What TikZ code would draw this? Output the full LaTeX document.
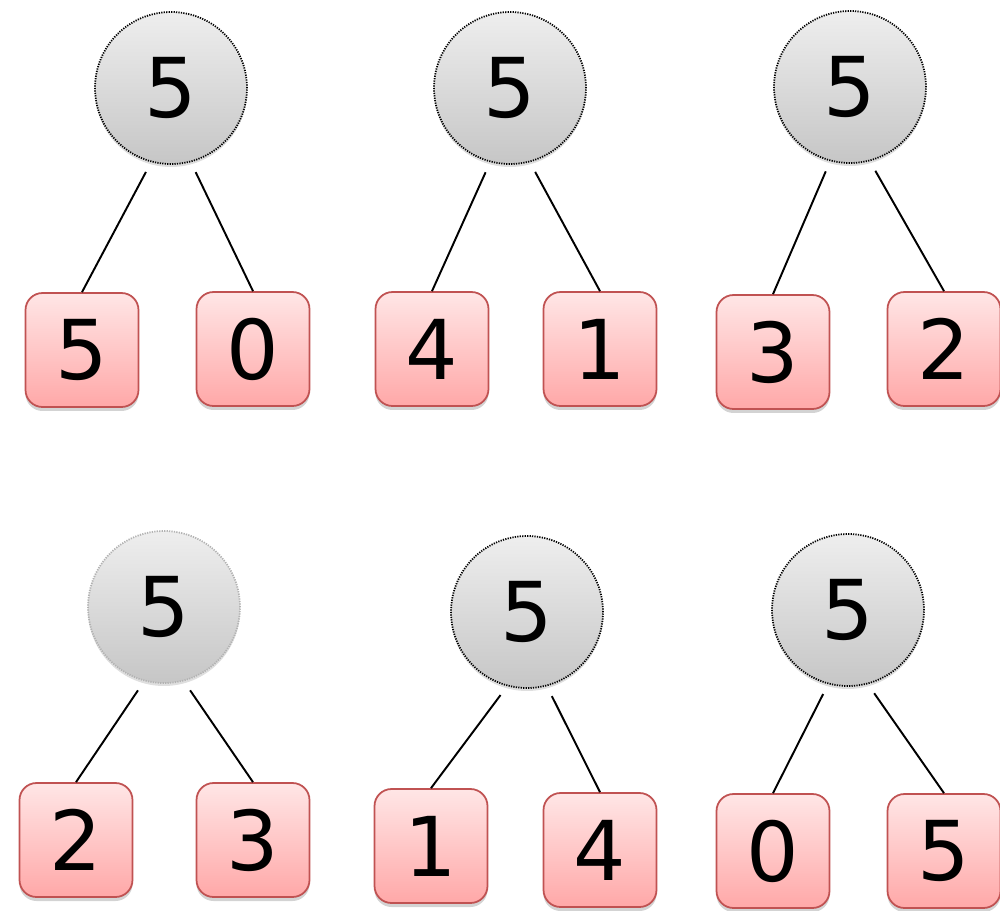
\documentclass[tikz,border=0pt]{standalone}
\usepackage{fontspec}
\setmainfont{DejaVu Sans}
\usetikzlibrary{shadows}

\definecolor{partrim}{HTML}{C05252}
\definecolor{parttop}{HTML}{FFE6E6}
\definecolor{partbot}{HTML}{FFA8A8}
\definecolor{wholetop}{HTML}{EEEEEE}
\definecolor{wholebot}{HTML}{C6C6C6}

\tikzset{
  whole/.style={circle, minimum size=3.04cm, inner sep=0pt,
    line width=1pt, dash pattern=on 0.7pt off 0.7pt,
    top color=wholetop, bottom color=wholebot,
    drop shadow={opacity=0.25, shadow xshift=0pt, shadow yshift=-0.06cm},
    font=\fontsize{47}{48}\selectfont},
  part/.style={rectangle, rounded corners=0.34cm, minimum width=2.26cm,
    minimum height=2.28cm, inner sep=0pt, draw=partrim, line width=1pt,
    top color=parttop, bottom color=partbot,
    drop shadow={opacity=0.35, shadow xshift=0pt, shadow yshift=-0.08cm},
    font=\fontsize{47}{48}\selectfont},
  bond/.style={line width=1.1pt, shorten <=0.22cm}
}

\begin{document}
\begin{tikzpicture}[x=0.02cm, y=-0.02cm]
  \useasboundingbox (0,0) rectangle (1000,910);

  % Zerlegungen der 5: Kreis oben, zwei Teile unten
  \foreach \cx/\cy/\lx/\ly/\rx/\ry/\lt/\rt/\ring [count=\i] in {
      171/88/82/350/253/349/5/0/black,
      510/88/432/349/600/349/4/1/black,
      850/87/773/352/944/349/3/2/black,
      164/607/76/840/253/840/2/3/gray!60,
      527/612/431/846/600/850/1/4/black,
      848/610/773/851/944/851/0/5/black} {
    \node[whole, draw=\ring] (c\i) at (\cx,\cy) {5};
    \node[part] (l\i) at (\lx,\ly) {\lt};
    \node[part] (r\i) at (\rx,\ry) {\rt};
    % Verbindungen
    \draw[bond] (c\i.255) -- (l\i.north);
    \draw[bond] (c\i.285) -- (r\i.north);
  }

\end{tikzpicture}
\end{document}
